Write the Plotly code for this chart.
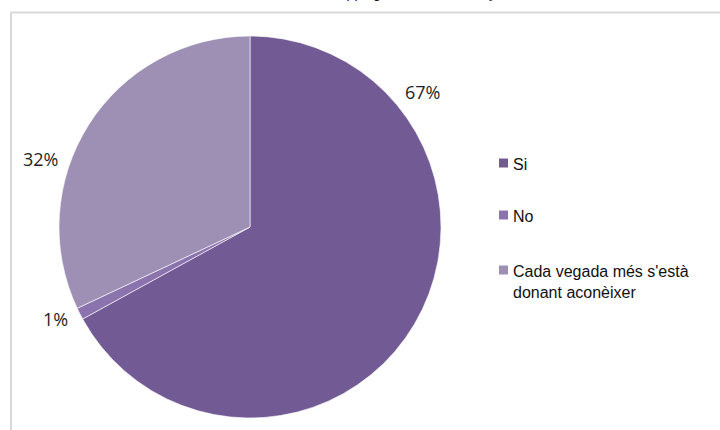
import plotly.graph_objects as go

# Survey answers and their shares (%)
categories = ["Si", "No", "Cada vegada més s'està donant aconèixer"]
legend_text = ["Si", "No", "Cada vegada més s'està<br>donant aconèixer"]
values = [67, 1, 32]
colors = ["#725a94", "#8b73ad", "#9e8fb5"]
title_text = "Coneixes el shopping online i el comerç actual?"

W, H = 720, 430

def px(x):
    return x / W

def py(y):
    return 1 - y / H

fig = go.Figure()

fig.add_trace(go.Pie(
    labels=categories,
    values=values,
    sort=False,
    direction="clockwise",
    rotation=0,
    marker=dict(colors=colors, line=dict(color="rgba(255,255,255,0.6)", width=1)),
    textinfo="none",
    hoverinfo="label+percent",
    showlegend=False,
    domain=dict(x=[px(59), px(441)], y=[py(418), py(36)]),
))

# Percentage labels placed around the pie
label_pos = [(422, 92), (55, 319), (40, 159)]
total = sum(values)
annotations = []
for v, (lx, ly) in zip(values, label_pos):
    annotations.append(dict(
        x=px(lx), y=py(ly), xref="paper", yref="paper",
        text=f"{round(100 * v / total)}%", showarrow=False,
        xanchor="center", yanchor="middle",
        font=dict(family="Open Sans", size=18, color="#1f1f1f"),
    ))

# Legend: colour squares and category names
legend_rows = [163, 215, 270]
shapes = []
for txt, col, ry in zip(legend_text, colors, legend_rows):
    shapes.append(dict(
        type="rect", xref="paper", yref="paper",
        x0=px(499), x1=px(508), y0=py(ry + 4.5), y1=py(ry - 4.5),
        fillcolor=col, line=dict(width=0),
    ))
    annotations.append(dict(
        x=px(511), y=py(ry - 9), xref="paper", yref="paper",
        text=txt, showarrow=False, xanchor="left", yanchor="top",
        align="left",
        font=dict(family="Liberation Sans", size=16, color="#111111"),
    ))

# Chart area border
shapes.append(dict(
    type="rect", xref="paper", yref="paper",
    x0=px(11), x1=1.1, y0=-0.1, y1=py(12.5),
    line=dict(color="#d9d9d9", width=2), fillcolor="rgba(0,0,0,0)",
    layer="below",
))

# Title line above the chart area
annotations.append(dict(
    x=px(245), y=py(3), xref="paper", yref="paper",
    text=title_text,
    showarrow=False, xanchor="left", yanchor="bottom",
    font=dict(family="Liberation Sans", size=14, color="#111111"),
))

fig.update_layout(
    width=W, height=H,
    margin=dict(l=0, r=0, t=0, b=0),
    paper_bgcolor="white", plot_bgcolor="white",
    shapes=shapes, annotations=annotations,
    showlegend=False,
)

fig.write_html("out.html")
